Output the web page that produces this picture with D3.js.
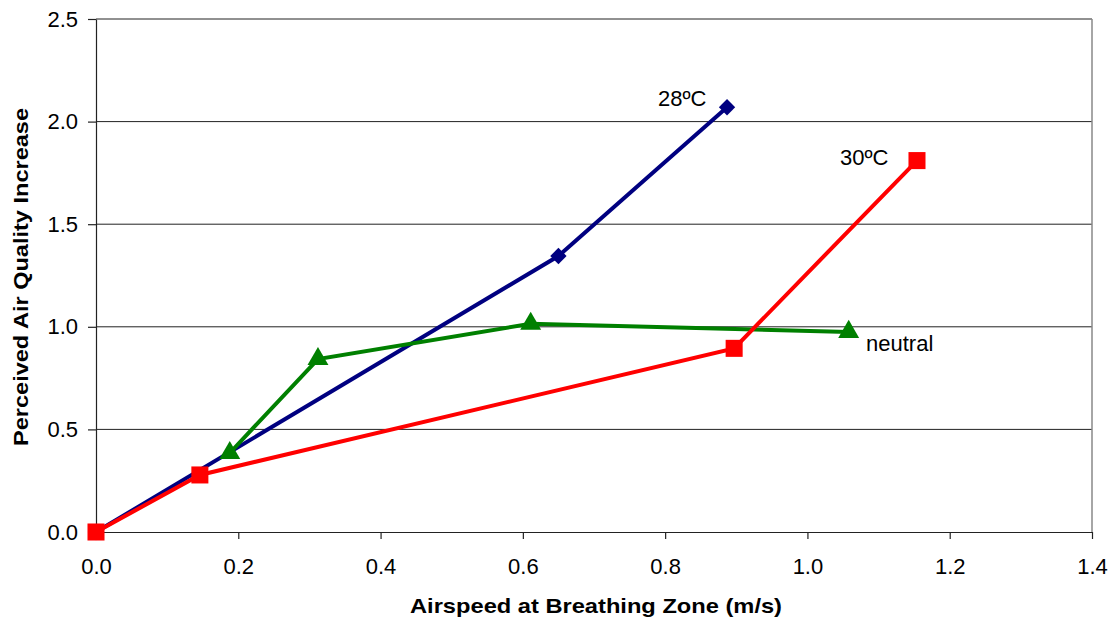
<!DOCTYPE html>
<html>
<head>
<meta charset="utf-8">
<script src="https://cdn.jsdelivr.net/npm/d3@7"></script>
<style>
  body { margin: 0; background: #fff; }
  text { font-family: "Liberation Sans", Arial, sans-serif; fill: #000; }
</style>
</head>
<body>
<div id="chart"></div>
<script>
// DATA ///////////////////////////////////////////////////////////////////////
const xTicks = [0, 0.2, 0.4, 0.6, 0.8, 1.0, 1.2, 1.4];
const yTicks = [0, 0.5, 1.0, 1.5, 2.0, 2.5];

const warm28 = [[0, 0], [0.65, 1.345], [0.887, 2.07]];
const warm30 = [[0, 0], [0.146, 0.278], [0.897, 0.895], [1.154, 1.81]];
const neutral = [[0.188, 0.385], [0.312, 0.843], [0.611, 1.015], [1.058, 0.975]];

const seriesNames = ["28ºC", "30ºC", "neutral"];

(function() {
    const W = 1112, H = 620;
    const svg = d3.select("#chart").append("svg")
        .attr("width", W).attr("height", H);

    const x = d3.scaleLinear().domain([0, 1.4]).range([96, 1092]);
    const y = d3.scaleLinear().domain([0, 2.5]).range([532, 19]);

    // gridlines
    svg.append("g").selectAll("line")
        .data(yTicks.slice(1))
        .enter().append("line")
        .attr("x1", x(0)).attr("x2", x(1.4))
        .attr("y1", d => y(d)).attr("y2", d => y(d))
        .attr("stroke", "#222").attr("stroke-width", 1);

    // right border
    svg.append("line")
        .attr("x1", x(1.4)).attr("x2", x(1.4))
        .attr("y1", y(2.5)).attr("y2", y(0))
        .attr("stroke", "#888").attr("stroke-width", 1.5);

    // axes
    const xAxis = svg.append("g")
        .attr("transform", `translate(0,${y(0)})`)
        .call(d3.axisBottom(x).tickValues(xTicks).tickFormat(d3.format(".1f"))
            .tickSizeInner(7).tickSizeOuter(0).tickPadding(19));
    const yAxis = svg.append("g")
        .attr("transform", `translate(${x(0)},0)`)
        .call(d3.axisLeft(y).tickValues(yTicks).tickFormat(d3.format(".1f"))
            .tickSizeInner(8).tickSizeOuter(0).tickPadding(10));
    [xAxis, yAxis].forEach(a => {
        a.selectAll("path, line").attr("stroke", "#222").attr("stroke-width", 1.2);
        a.selectAll("text").style("font-size", "22px")
            .style("font-family", "Liberation Sans, Arial, sans-serif");
    });

    // axis titles
    svg.append("text")
        .attr("x", 596).attr("y", 613)
        .attr("text-anchor", "middle")
        .attr("textLength", 372).attr("lengthAdjust", "spacingAndGlyphs")
        .style("font-size", "21px").style("font-weight", "bold")
        .text("Airspeed at Breathing Zone (m/s)");
    svg.append("text")
        .attr("transform", "translate(28,277) rotate(-90)")
        .attr("text-anchor", "middle")
        .attr("textLength", 338).attr("lengthAdjust", "spacingAndGlyphs")
        .style("font-size", "21px").style("font-weight", "bold")
        .text("Perceived Air Quality Increase");

    const line = d3.line().x(d => x(d[0])).y(d => y(d[1]));

    function drawSeries(data, color, symbol, size) {
        svg.append("path")
            .datum(data)
            .attr("d", line)
            .attr("fill", "none")
            .attr("stroke", color)
            .attr("stroke-width", 4);
        svg.append("g").selectAll("path")
            .data(data)
            .enter().append("path")
            .attr("transform", d => `translate(${x(d[0])},${y(d[1])})`)
            .attr("d", d3.symbol().type(symbol).size(size))
            .attr("fill", color);
    }

    drawSeries(warm28, "#000080", d3.symbolDiamond2, 170);
    drawSeries(neutral, "#008000", d3.symbolTriangle, 190);
    drawSeries(warm30, "#FF0000", d3.symbolSquare, 290);

    // series labels
    const labels = [
        {t: seriesNames[0], x: 658, y: 106},
        {t: seriesNames[1], x: 840, y: 165},
        {t: seriesNames[2], x: 866, y: 351}
    ];
    svg.append("g").selectAll("text")
        .data(labels)
        .enter().append("text")
        .attr("x", d => d.x).attr("y", d => d.y)
        .style("font-size", "22px")
        .text(d => d.t);
})();
</script>
</body>
</html>
